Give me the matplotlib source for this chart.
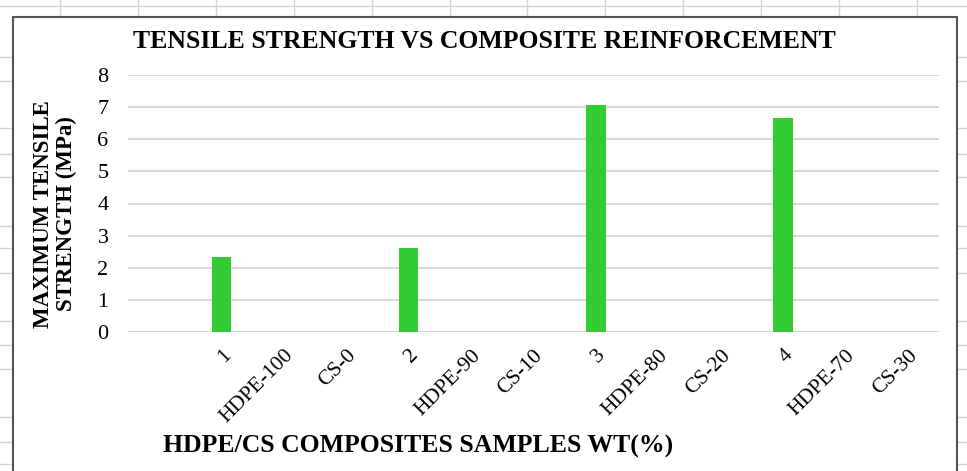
import numpy as np
import matplotlib.pyplot as plt
from matplotlib.lines import Line2D
from matplotlib.patches import Rectangle

# Category axis: a blank slot first, then sample / HDPE / CS labels
tick_labels = ['', '1', 'HDPE-100', 'CS-0', '2', 'HDPE-90', 'CS-10',
               '3', 'HDPE-80', 'CS-20', '4', 'HDPE-70', 'CS-30']
sample_labels = ['1', '2', '3', '4']
max_strength = [2.34, 2.61, 7.08, 6.67]  # MPa

W, H = 967, 471
plt.rcParams['font.family'] = ['Liberation Serif', 'DejaVu Serif']

fig = plt.figure(figsize=(W / 100, H / 100), dpi=100)
fig.patch.set_facecolor('white')

def px_line(x0, y0, x1, y1, color='#d4d4d4', lw=1.0, z=0):
    # line given in image pixels (origin top-left)
    fig.add_artist(Line2D([x0 / W, x1 / W], [1 - y0 / H, 1 - y1 / H],
                          transform=fig.transFigure, color=color, lw=lw, zorder=z))

# worksheet cell lines around the chart object
px_line(0, 6, W, 6)
for x in np.arange(60, 960, 77.9):
    px_line(x, 0, x, 17)
for y in [57, 81, 128, 154, 177, 226, 248, 273, 321, 345, 369, 417, 442, 464]:
    px_line(0, y, 13, y)
    px_line(957, y, W, y)

# chart object frame
fig.add_artist(Rectangle((13 / W, -0.05), (957 - 13) / W, 1.05 - 17 / H,
                         transform=fig.transFigure, facecolor='white',
                         edgecolor='#555555', lw=1.5, zorder=1))

ax = fig.add_axes([128 / W, (H - 332) / H, 811 / W, (332 - 75) / H], zorder=2)
ax.set_facecolor('none')

x = np.arange(len(tick_labels))
pos = [tick_labels.index(s) for s in sample_labels]
ax.bar(pos, max_strength, width=0.31, color='#33cc33', zorder=3)

ax.set_xlim(-0.5, len(tick_labels) - 0.5)
ax.set_ylim(0, 8)
ax.set_yticks(range(0, 9))
ax.yaxis.grid(True, color='#d9d9d9', lw=1.5)
ax.set_axisbelow(True)
for s in ax.spines.values():
    s.set_visible(False)
ax.tick_params(length=0)
ax.tick_params(axis='y', labelsize=16, pad=14)
ax.set_xticks(x)
ax.set_xticklabels(tick_labels, rotation=45, ha='right', rotation_mode='anchor',
                   fontsize=15.5)
ax.tick_params(axis='x', pad=10)

fig.text(484 / W, 1 - 42 / H, 'TENSILE STRENGTH VS COMPOSITE REINFORCEMENT',
         ha='center', va='center', fontsize=18.5, fontweight='bold')
fig.text(55 / W, 1 - 214 / H, 'MAXIMUM TENSILE\nSTRENGTH (MPa)', rotation=90,
         ha='center', va='center', fontsize=16.5, fontweight='bold',
         multialignment='center', linespacing=1.12)
fig.text(418 / W, 1 - 446 / H, 'HDPE/CS COMPOSITES SAMPLES WT(%)',
         ha='center', va='center', fontsize=18.5, fontweight='bold')

fig.savefig('out.png', dpi=100)
